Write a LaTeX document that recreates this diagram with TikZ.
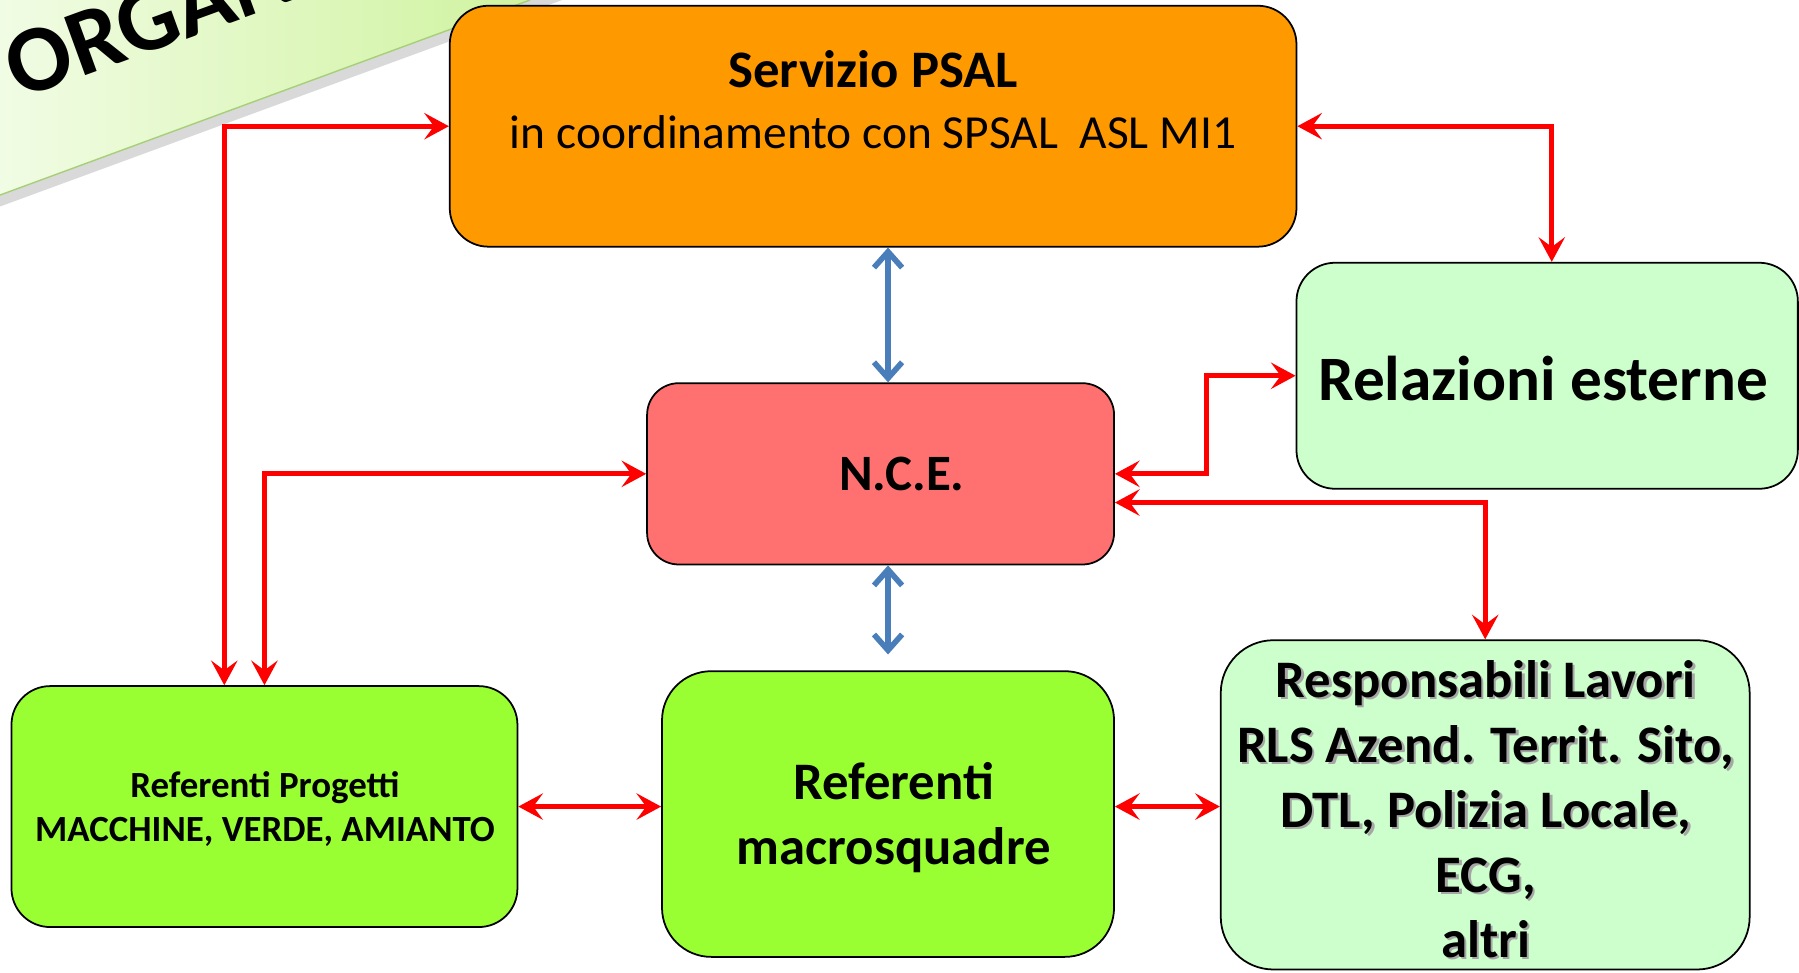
\documentclass[tikz,border=0pt]{standalone}
\usepackage{fontspec}
\setmainfont{Carlito}
\usetikzlibrary{arrows.meta,fit,calc}

\definecolor{psalorange}{HTML}{FF9900}
\definecolor{ncered}{HTML}{FF7171}
\definecolor{limegreen}{HTML}{99FF33}
\definecolor{palegreen}{HTML}{CCFFCC}
\definecolor{linkblue}{HTML}{4A7EBB}
\definecolor{bannerlight}{HTML}{F1FCE4}
\definecolor{bannerdark}{HTML}{D0F3A0}
\definecolor{bannerline}{HTML}{A6CF78}

\begin{document}
\begin{tikzpicture}[x=0.6528pt, y=-0.6528pt,
    box/.style = {draw=black, line width=1pt, rounded corners=22pt, inner sep=0pt},
    boxtext/.style = {align=center, font=\bfseries\fontsize{30}{37}\selectfont},
    redlink/.style = {draw=red, line width=3pt,
        {Stealth[length=14pt,width=15pt,inset=5.5pt]}-{Stealth[length=14pt,width=15pt,inset=5.5pt]}},
    bluelink/.style = {draw=linkblue, line width=3.2pt, line cap=round,
        {Straight Barb[length=9pt,width=16pt]}-{Straight Barb[length=9pt,width=16pt]}}]
    \useasboundingbox (0,0) rectangle (1568,848);
    \clip (0,0) rectangle (1568,848);

    % banner in the corner
    \fill[black, opacity=0.15] (0,180) -- (490,0) -- (0,0) -- cycle;
    \shade[left color=bannerlight, right color=bannerdark] (0,170) -- (462,0) -- (0,0) -- cycle;
    \draw[bannerline, line width=0.8pt] (0,170) -- (462,0);
    \node[anchor=base west, rotate=20, font=\bfseries\fontsize{54}{64}\selectfont, inner sep=0pt]
        (bannertext) at (17,87) {ORGANI};

    % boxes
    \node[box, fill=psalorange, fit={(392,5) (1130,215)}] (psal) {};
    \node[align=center, font=\fontsize{27}{34.6}\selectfont] (psaltext) at (761,87)
        {{\bfseries\fontsize{30}{34.6}\selectfont Servizio PSAL}\\in coordinamento con SPSAL\ \ ASL MI1};
    \node[box, fill=palegreen, fit={(1130,229) (1567,426)}] (relaz) {};
    \node[boxtext, font=\bfseries\fontsize{36}{43}\selectfont] (relaztext) at (1345,330) {Relazioni esterne};
    \node[box, fill=ncered, rounded corners=18pt, fit={(564,334) (971,492)}] (nce) {};
    \node[boxtext, font=\bfseries\fontsize{29}{35}\selectfont] (ncetext) at (786,413) {N.C.E.};
    \node[box, fill=limegreen, fit={(10,598) (451,808)}] (refprog) {};
    \node[boxtext, font=\bfseries\fontsize{21}{24.8}\selectfont] (refprogtext) at (231,705)
        {Referenti Progetti\\MACCHINE, VERDE, AMIANTO};
    \node[box, fill=limegreen, rounded corners=28pt, fit={(577,585) (971,834)}] (macro) {};
    \node[boxtext] (macrotext) at (779,713) {Referenti\\macrosquadre};
    \node[box, fill=palegreen, rounded corners=30pt, fit={(1064,558) (1525,845)}] (resp) {};
    \node[boxtext, text=black!35] (respshadow) at (1297,707)
        {Responsabili Lavori\\RLS Azend. Territ. Sito,\\DTL, Polizia Locale,\\ECG,\\altri};
    \node[boxtext] (resptext) at (1295,705)
        {Responsabili Lavori\\RLS Azend. Territ. Sito,\\DTL, Polizia Locale,\\ECG,\\altri};

    % red links
    \draw[redlink] (psal.west) -| ($(refprog.north)+(-35,0)$);
    \draw[redlink] (nce.west) -| (refprog.north);
    \draw[redlink] (psal.east) -| ($(relaz.north)+(4,0)$);
    \draw[redlink] (nce.east) -- ++(80,0) |- (relaz.west);
    \draw[redlink] ($(nce.east)+(0,25)$) -| (resp.north);
    \draw[redlink] (refprog.east) -- (refprog.east -| macro.west);
    \draw[redlink] (macro.east |- refprog.east) -- (resp.west |- refprog.east);

    % blue links
    \draw[bluelink] (psal.south -| macro.north) -- (nce.north -| macro.north);
    \draw[bluelink, shorten >=9pt] (nce.south -| macro.north) -- (macro.north);
\end{tikzpicture}
\end{document}
